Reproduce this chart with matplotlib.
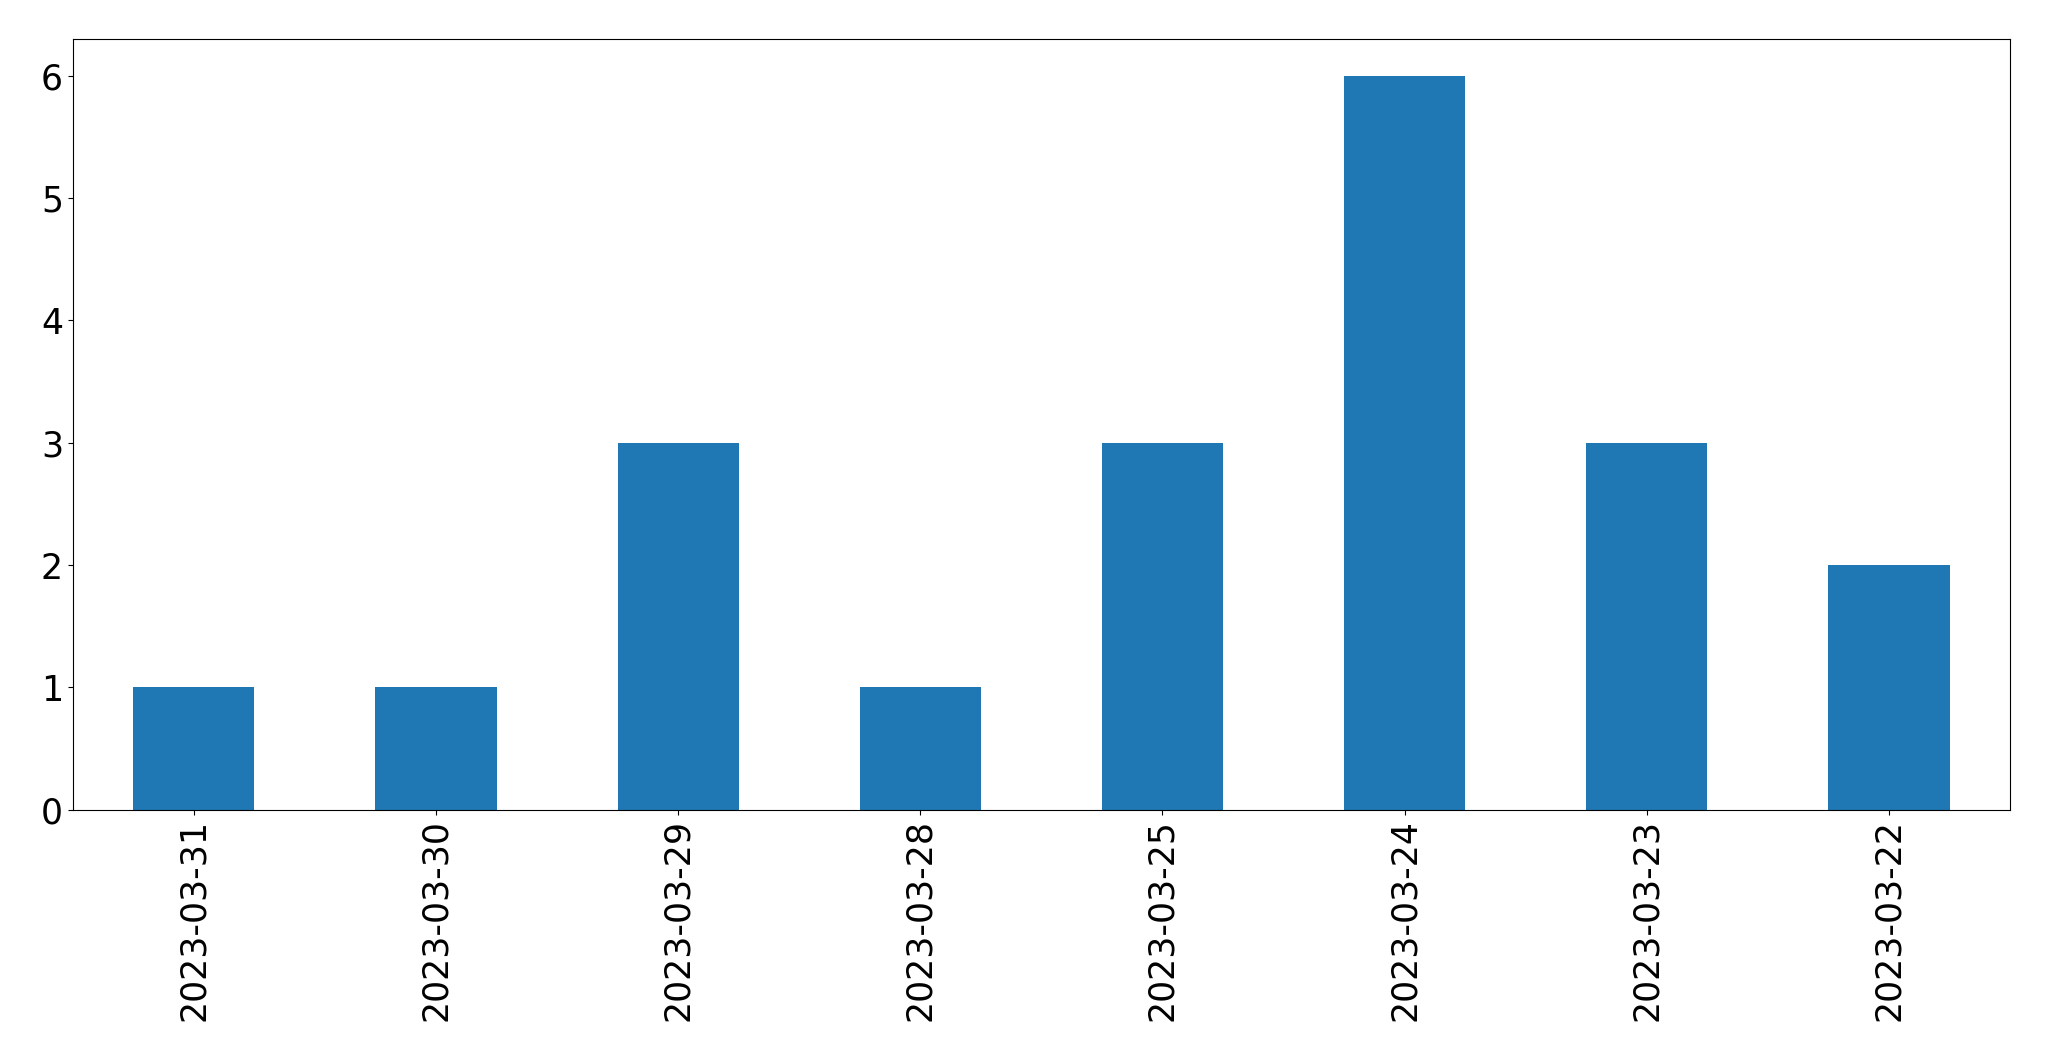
import pandas as pd
import matplotlib
matplotlib.use("Agg")
import matplotlib.pyplot as plt

dates = ["2023-03-31", "2023-03-30", "2023-03-29", "2023-03-28",
         "2023-03-25", "2023-03-24", "2023-03-23", "2023-03-22"]
counts = [1, 1, 3, 1, 3, 6, 3, 2]

s = pd.Series(counts, index=dates)

fig = plt.figure(figsize=(20.49, 10.61), dpi=100)
ax = fig.add_axes([0.0355, 0.237, 0.9455, 0.726])
s.plot(kind="bar", ax=ax, color="#1f77b4")
ax.tick_params(axis="both", labelsize=25)
ax.set_yticks(range(0, 7))
fig.savefig("out.png", dpi=100)
